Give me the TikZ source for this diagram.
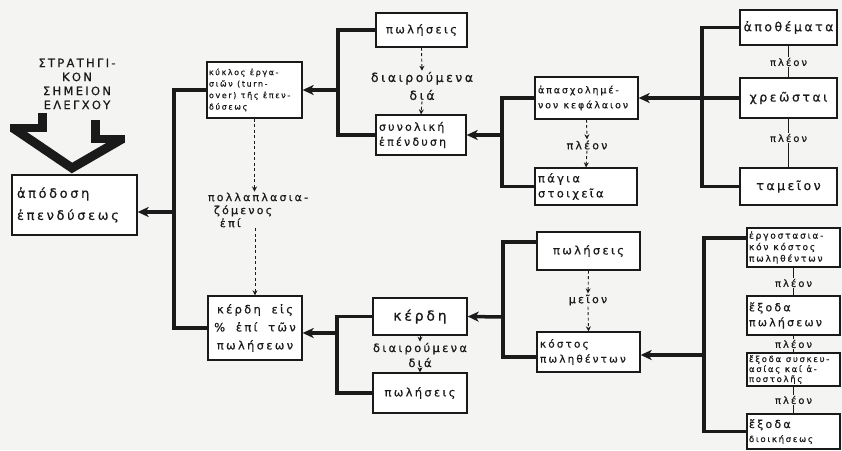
\documentclass[tikz,border=0pt]{standalone}
\usepackage{fontspec}
\setmainfont{DejaVu Sans}
\newfontfamily\hand[LetterSpace=20,FakeBold=0.6,WordSpace=1.8]{DejaVu Sans}
\usetikzlibrary{arrows.meta,calc}
\definecolor{bg}{HTML}{F4F4F2}
\definecolor{ink}{HTML}{1A1A1A}
\newcommand\wsp{\hspace{0.55em}}
\tikzset{
 box/.style={draw=ink, line width=1.3pt, fill=white, inner sep=3pt, text=ink, align=left, font=\hand\fontsize{11.5}{13.5}\selectfont},
 cbox/.style={box, align=center},
 conn/.style={draw=ink, line width=3.5pt},
 arr/.style={conn, -{Stealth[length=11pt,width=10pt,inset=3pt]}},
 dotarr/.style={draw=ink, line width=0.9pt, dash pattern=on 3pt off 2.5pt, -{Stealth[length=5pt,width=5pt]}},
 thinln/.style={draw=ink, line width=1pt},
 lbl/.style={text=ink, inner sep=1pt, align=center, font=\hand\fontsize{11}{13}\selectfont},
}
\begin{document}
\begin{tikzpicture}[x=1pt,y=-1pt]
\fill[bg] (0,0) rectangle (842,450);
\useasboundingbox (0,0) rectangle (842,450);

% control point label and chevron
\node[lbl, font=\hand\fontsize{11.5}{14}\selectfont] (ctrl) at (77,84) {ΣΤΡΑΤΗΓΙ-\\ΚΟΝ\\ΣΗΜΕΙΟΝ\\ΕΛΕΓΧΟΥ};
\fill[ink] (38,113) rectangle (47,132);
\fill[ink] (91,120) rectangle (100,143);
\fill[ink] (10,124) rectangle (47,132);
\fill[ink] (91,135) rectangle (125,143);
\draw[ink, line width=9pt, line join=miter] (13,128) -- (72,168) -- (122,139);

% boxes
\node[box, minimum width=125pt, minimum height=60pt, text width=115pt, font=\hand\fontsize{13}{22}\selectfont] (apod) at (74.5,205) {ἀπόδοση\\ἐπενδύσεως};
\node[box, minimum width=95pt, minimum height=56pt, text width=91pt, inner sep=2pt, font=\hand\fontsize{8}{11.5}\selectfont] (kyk) at (254.5,90) {κύκλος\wsp ἐργα-\\σιῶν\wsp (turn-\\over)\wsp τῆς\wsp ἐπεν-\\δύσεως};
\node[cbox, minimum width=91pt, minimum height=34pt] (pol1) at (421.5,30) {πωλήσεις};
\node[box, minimum width=90pt, minimum height=40pt, text width=84pt, font=\hand\fontsize{11}{15}\selectfont] (syn) at (421,135) {συνολική\\ἐπένδυση};
\node[box, minimum width=103pt, minimum height=42pt, text width=97pt, font=\hand\fontsize{9.5}{15}\selectfont] (apx) at (586.5,98) {ἀπασχολημέ-\\νον\wsp κεφάλαιον};
\node[box, minimum width=102pt, minimum height=37pt, text width=96pt, font=\hand\fontsize{11.5}{15}\selectfont] (pag) at (586,186.5) {πάγια\\στοιχεῖα};
\node[cbox, minimum width=97pt, minimum height=35pt, font=\hand\fontsize{12.5}{14}\selectfont] (apo) at (788.5,27.5) {ἀποθέματα};
\node[cbox, minimum width=97pt, minimum height=40pt, font=\hand\fontsize{12.5}{14}\selectfont] (xre) at (788.5,98) {χρεῶσται};
\node[cbox, minimum width=97pt, minimum height=37pt, font=\hand\fontsize{12.5}{14}\selectfont] (tam) at (788.5,186.5) {ταμεῖον};

\node[cbox, minimum width=94pt, minimum height=64pt, font=\hand\fontsize{11.5}{18}\selectfont] (kpct) at (255,328) {κέρδη εἰς\\\% ἐπί τῶν\\πωλήσεων};
\node[cbox, minimum width=94pt, minimum height=37pt, font=\hand\fontsize{14}{16}\selectfont] (ker) at (420,316.5) {κέρδη};
\node[cbox, minimum width=94pt, minimum height=40pt] (pol2) at (420,393) {πωλήσεις};
\node[cbox, minimum width=103pt, minimum height=38pt] (pol3) at (588.5,251) {πωλήσεις};
\node[box, minimum width=103pt, minimum height=40pt, text width=97pt, font=\hand\fontsize{10.5}{15}\selectfont] (kos) at (588.5,352) {κόστος\\πωληθέντων};
\node[box, minimum width=93pt, minimum height=39pt, text width=89pt, inner sep=2pt, font=\hand\fontsize{9}{11.5}\selectfont] (erg) at (793.5,247.5) {ἐργοστασια-\\κόν\wsp κόστος\\πωληθέντων};
\node[box, minimum width=93pt, minimum height=39pt, text width=89pt, inner sep=2pt, font=\hand\fontsize{11}{15}\selectfont] (exo) at (793.5,315.5) {ἔξοδα\\πωλήσεων};
\node[box, minimum width=93pt, minimum height=33pt, text width=89pt, inner sep=2pt, font=\hand\fontsize{8.5}{10}\selectfont] (sys) at (793.5,369.5) {ἔξοδα\wsp συσκευ-\\ασίας\wsp καί\wsp ἀ-\\ποστολῆς};
\node[box, minimum width=93pt, minimum height=35pt, text width=89pt, inner sep=2pt, font=\hand\fontsize{11}{14}\selectfont] (dio) at (793.5,431.5) {ἔξοδα\\{\fontsize{8.5}{9}\selectfont διοικήσεως}};

% labels
\node[lbl, font=\hand\fontsize{12.5}{18}\selectfont] (lA) at (422,86) {διαιρούμενα\\διά};
\node[lbl] (lB) at (587,145) {πλέον};
\node[lbl, align=left, font=\hand\fontsize{11}{13}\selectfont] (lC) at (258,210) {πολλαπλασια-\\\hspace{6pt}ζόμενος\\\hspace{12pt}ἐπί};
\node[lbl, font=\hand\fontsize{11.5}{15}\selectfont] (lD) at (420,355) {διαιρούμενα\\διά};
\node[lbl] (lE) at (588,300) {μεῖον};
\node[lbl, font=\hand\fontsize{10}{11}\selectfont] (r1) at (788.5,62) {πλέον};
\node[lbl, font=\hand\fontsize{10}{11}\selectfont] (r2) at (788.5,138) {πλέον};
\node[lbl, font=\hand\fontsize{10}{11}\selectfont] (r3) at (793.5,283) {πλέον};
\node[lbl, font=\hand\fontsize{10}{11}\selectfont] (r4) at (793.5,344) {πλέον};
\node[lbl, font=\hand\fontsize{10}{11}\selectfont] (r5) at (793.5,400) {πλέον};

% dotted arrows
\draw[dotarr] (pol1.south) -- (lA.north);
\draw[dotarr] (lA.south) -- (syn.north);
\draw[dotarr] (apx.south) -- (lB.north);
\draw[dotarr] (lB.south) -- (pag.north);
\draw[dotarr] (kyk.south) -- (lC.north -| kyk.south);
\draw[dotarr] (lC.south -| kpct.north) -- (kpct.north);
\draw[dotarr] (ker.south) -- (lD.north);
\draw[dotarr] (lD.south) -- (pol2.north);
\draw[dotarr] (pol3.south) -- (lE.north);
\draw[dotarr] (lE.south) -- (kos.north);

% thin connectors in right columns
\draw[thinln] (apo.south) -- (r1.north);
\draw[thinln] (r1.south) -- (xre.north);
\draw[thinln] (xre.south) -- (r2.north);
\draw[thinln] (r2.south) -- (tam.north);
\draw[thinln] (erg.south) -- (r3.north);
\draw[thinln] (r3.south) -- (exo.north);
\draw[thinln] (exo.south) -- (r4.north);
\draw[thinln] (r4.south) -- (sys.north);
\draw[thinln] (sys.south) -- (r5.north);
\draw[thinln] (r5.south) -- (dio.north);

% brackets
\coordinate (bA) at (174,212);
\draw[conn] (kyk.west) -| (bA) |- (kpct.west);
\draw[arr] (bA) -- (bA -| apod.east);

\coordinate (bB) at (338,90);
\draw[conn] (pol1.west) -| (bB) |- (syn.west);
\draw[arr] (bB) -- (kyk.east);

\coordinate (bC) at (502,135);
\draw[conn] (apx.west) -| (bC) |- (pag.west);
\draw[arr] (bC) -- (syn.east);

\coordinate (bD) at (702,98);
\draw[conn] (apo.west) -| (bD) |- (tam.west);
\draw[conn] (xre.west) -- (bD);
\draw[arr] (bD) -- (apx.east);

\coordinate (bE) at (337,333);
\draw[conn] (ker.west) -| (bE) |- (pol2.west);
\draw[arr] (bE) -- (bE -| kpct.east);

\coordinate (bF) at (503,317);
\draw[conn] ($(pol3.west)+(0,-9)$) -| (bF) |- ($(kos.west)+(0,5)$);
\draw[arr] (bF) -- (ker.east);

\coordinate (bG) at (704,355);
\draw[conn] ($(erg.west)+(0,-9.5)$) -| (bG) |- (dio.west);
\draw[conn] ($(exo.west)+(0,-3.5)$) -- ($(exo.west)+(0,-3.5)$ -| bG);
\draw[conn] ($(sys.west)+(0,2.5)$) -- ($(sys.west)+(0,2.5)$ -| bG);
\draw[arr] (bG) -- (bG -| kos.east);
\end{tikzpicture}
\end{document}
